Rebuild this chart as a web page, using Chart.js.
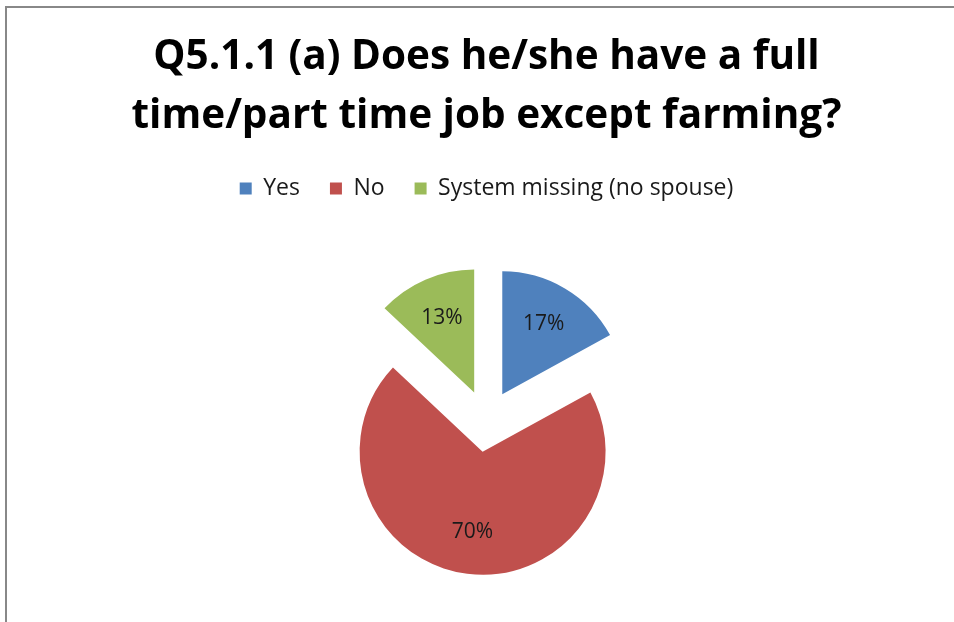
<!DOCTYPE html>
<html>
<head>
<meta charset="utf-8">
<title>Q5.1.1 (a)</title>
<script src="https://cdn.jsdelivr.net/npm/chart.js@4.4.1/dist/chart.umd.min.js"></script>
<style>
    html, body { margin: 0; padding: 0; background: #fff; overflow: hidden; }
    #wrap { position: relative; width: 954px; height: 622px; overflow: hidden; }
    #frame {
        position: absolute; left: 5px; top: 6px; right: -10px; bottom: -10px;
        border-top: 2px solid #888; border-left: 2px solid #888;
        pointer-events: none;
    }
    canvas { position: absolute; left: 0; top: 0; }
</style>
</head>
<body>
<div id="wrap">
    <canvas id="jobChart" width="954" height="640"></canvas>
    <div id="frame"></div>
</div>
<script>
// Answers and their share of respondents (%)
const answers = ['Yes', 'No', 'System missing (no spouse)'];
const shares = [17, 70, 13];
const sliceColors = ['#4F81BD', '#C0504D', '#9BBB59'];
const titleLines = ['Q5.1.1 (a) Does he/she have a full', 'time/part time job except farming?'];

// How far every slice is pulled out from the centre, in px
const explodeBy = 31;

// Push each arc out along its own middle angle before the library draws it
const explodeSlices = {
    id: 'explodeSlices',
    afterDatasetUpdate(chart, args) {
        args.meta.data.forEach(arc => {
            if (arc._exploded) return;
            const drawArc = arc.draw.bind(arc);
            arc.draw = function(ctx, area) {
                const mid = (this.startAngle + this.endAngle) / 2;
                ctx.save();
                ctx.translate(Math.cos(mid) * explodeBy, Math.sin(mid) * explodeBy);
                drawArc(ctx, area);
                ctx.restore();
            };
            arc._exploded = true;
        });
    }
};

// Percent labels inside the slices
const sliceLabels = {
    id: 'sliceLabels',
    afterDatasetsDraw(chart) {
        const ctx = chart.ctx;
        const meta = chart.getDatasetMeta(0);
        ctx.save();
        ctx.font = '21px "Open Sans"';
        ctx.fillStyle = '#1a1a1a';
        ctx.textAlign = 'center';
        ctx.textBaseline = 'middle';
        meta.data.forEach((arc, i) => {
            const mid = (arc.startAngle + arc.endAngle) / 2;
            const dist = explodeBy + arc.outerRadius * 0.66;
            ctx.fillText(shares[i] + '%', arc.x + Math.cos(mid) * dist, arc.y + Math.sin(mid) * dist);
        });
        ctx.restore();
    }
};

const ctx = document.getElementById('jobChart').getContext('2d');
new Chart(ctx, {
    type: 'pie',
    data: {
        labels: answers,
        datasets: [{
            data: shares,
            backgroundColor: sliceColors,
            borderWidth: 0,
            radius: 123
        }]
    },
    options: {
        responsive: false,
        animation: false,
        devicePixelRatio: 1,
        layout: {
            padding: { left: 19, right: 0, top: 0, bottom: 8 }
        },
        plugins: {
            title: {
                display: true,
                text: titleLines,
                color: '#000',
                font: { family: '"Open Sans"', size: 40.5, weight: 'bold', lineHeight: 59 / 40.5 },
                padding: { top: 28, bottom: 1 }
            },
            legend: {
                position: 'top',
                labels: {
                    boxWidth: 12,
                    boxHeight: 12,
                    padding: 30,
                    color: '#1a1a1a',
                    font: { family: '"Open Sans"', size: 23 }
                }
            },
            tooltip: { enabled: false }
        }
    },
    plugins: [explodeSlices, sliceLabels]
});
</script>
</body>
</html>
